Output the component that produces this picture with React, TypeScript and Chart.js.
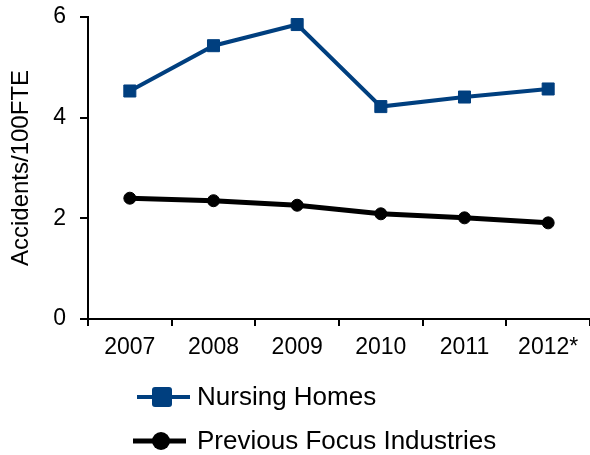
import React, { useEffect, useRef } from "react";
import { Chart, registerables } from "chart.js";

Chart.register(...registerables);

const categories = ["2007", "2008", "2009", "2010", "2011", "2012*"];
const nursingHomes = [4.53, 5.43, 5.85, 4.22, 4.41, 4.57];
const previousFocus = [2.40, 2.35, 2.26, 2.09, 2.01, 1.91];
const yTicks = [0, 2, 4, 6];
const yTitle = "Accidents/100FTE";
const seriesLabels = ["Nursing Homes", "Previous Focus Industries"];

const FONT = '"Liberation Sans", Arial, sans-serif';

const legendPlugin = {
  id: "customLegend",
  afterDraw(chart: any) {
    const ctx = chart.ctx;
    const rows = [
      { y: 397, x1: 137, x2: 190, mx: 162, text: 197, lw: 4 },
      { y: 441, x1: 133, x2: 186, mx: 161, text: 197, lw: 5 },
    ];
    chart.data.datasets.forEach((ds: any, i: number) => {
      const r = rows[i];
      if (!r) return;
      ctx.save();
      ctx.strokeStyle = ds.borderColor;
      ctx.lineWidth = r.lw;
      ctx.beginPath();
      ctx.moveTo(r.x1, r.y);
      ctx.lineTo(r.x2, r.y);
      ctx.stroke();
      ctx.fillStyle = ds.borderColor;
      if (ds.pointStyle === "rect") {
        const s = 20;
        const x = r.mx - s / 2;
        const y = r.y - s / 2;
        const rad = 3;
        ctx.beginPath();
        ctx.moveTo(x + rad, y);
        ctx.lineTo(x + s - rad, y);
        ctx.quadraticCurveTo(x + s, y, x + s, y + rad);
        ctx.lineTo(x + s, y + s - rad);
        ctx.quadraticCurveTo(x + s, y + s, x + s - rad, y + s);
        ctx.lineTo(x + rad, y + s);
        ctx.quadraticCurveTo(x, y + s, x, y + s - rad);
        ctx.lineTo(x, y + rad);
        ctx.quadraticCurveTo(x, y, x + rad, y);
        ctx.fill();
      } else {
        ctx.beginPath();
        ctx.arc(r.mx, r.y, 9, 0, Math.PI * 2);
        ctx.fill();
      }
      ctx.fillStyle = "#000";
      ctx.font = `26px ${FONT}`;
      ctx.textBaseline = "middle";
      ctx.textAlign = "left";
      ctx.fillText(ds.label, r.text, r.y + 1);
      ctx.restore();
    });
  },
};

export default function App() {
  const ref = useRef<HTMLCanvasElement | null>(null);

  useEffect(() => {
    document.body.style.margin = "0";
    const canvas = ref.current;
    if (!canvas) return;
    const chart = new Chart(canvas, {
      type: "line",
      data: {
        labels: categories,
        datasets: [
          {
            label: seriesLabels[0],
            data: nursingHomes,
            borderColor: "#003F7F",
            backgroundColor: "#003F7F",
            borderWidth: 4,
            pointStyle: "rect",
            pointRadius: 8.5,
            pointBorderWidth: 1,
            pointBackgroundColor: "#003F7F",
            pointBorderColor: "#003F7F",
            tension: 0,
          },
          {
            label: seriesLabels[1],
            data: previousFocus,
            borderColor: "#000000",
            backgroundColor: "#000000",
            borderWidth: 5,
            pointStyle: "circle",
            pointRadius: 6,
            pointBorderWidth: 1,
            pointBackgroundColor: "#000000",
            pointBorderColor: "#000000",
            tension: 0,
          },
        ],
      },
      options: {
        animation: false,
        responsive: false,
        maintainAspectRatio: false,
        layout: { autoPadding: false, padding: { top: 17, left: 0, right: 0, bottom: 80 } },
        plugins: {
          legend: { display: false },
          tooltip: { enabled: false },
        },
        scales: {
          x: {
            type: "category",
            offset: true,
            grid: {
              offset: true,
              drawOnChartArea: false,
              drawTicks: true,
              tickLength: 7,
              color: "#000",
              lineWidth: 2,
            },
            border: { display: true, color: "#000", width: 2 },
            ticks: {
              color: "#000",
              font: { family: FONT, size: 23 },
              padding: 8,
              maxRotation: 0,
              autoSkip: false,
            },
            afterFit: (scale: any) => {
              scale.height = 56;
              scale.paddingLeft = 0;
              scale.paddingRight = 0;
            },
          },
          y: {
            min: 0,
            max: 6,
            afterBuildTicks: (scale: any) => {
              scale.ticks = yTicks.map((v) => ({ value: v }));
            },
            grid: {
              drawOnChartArea: false,
              drawTicks: true,
              tickLength: 8,
              color: "#000",
              lineWidth: 2,
            },
            border: { display: true, color: "#000", width: 2 },
            ticks: {
              color: "#000",
              font: { family: FONT, size: 23 },
              padding: 14,
            },
            title: {
              display: true,
              text: yTitle,
              color: "#000",
              font: { family: FONT, size: 24 },
              padding: { top: 7, bottom: 4 },
            },
            afterFit: (scale: any) => {
              scale.width = 88;
              scale.paddingTop = 0;
              scale.paddingBottom = 0;
            },
          },
        },
      },
      plugins: [legendPlugin],
    });
    return () => chart.destroy();
  }, []);

  return <canvas ref={ref} width={590} height={455} style={{ display: "block" }} />;
}
